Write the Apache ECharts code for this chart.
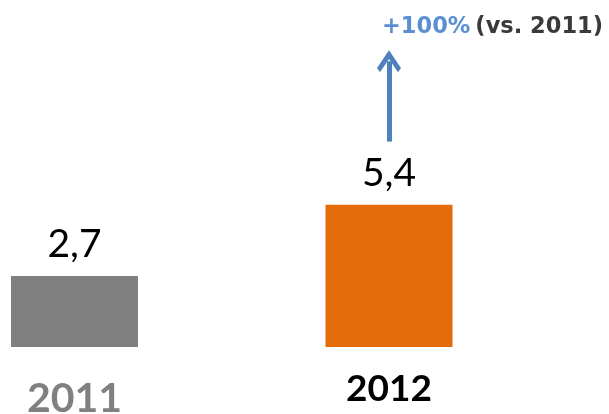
<!DOCTYPE html>
<html>
<head>
<meta charset="utf-8">
<script src="https://cdn.jsdelivr.net/npm/echarts@6/dist/echarts.min.js"></script>
<style>
  html, body { margin: 0; padding: 0; background: #fff; }
  #chart { width: 609px; height: 414px; }
</style>
</head>
<body>
<div id="chart"></div>
<script>
const years = ['2011', '2012'];
const revenue = [2.7, 5.4];
const barColors = ['#808080', '#e46c0a'];
// arrow above the 2012 bar, in axis units
const arrowFrom = [1, 7.8];
const arrowTo = [1, 10.85];

const chart = echarts.init(document.getElementById('chart'));

const option = {
    animation: false,
    title: {
        text: '{up|+100%} {vs|(vs. 2011)}',
        left: 377,
        top: 11,
        textStyle: {
            rich: {
                up: { fontFamily: 'DejaVu Sans', fontWeight: 'bold', fontSize: 22.5, color: '#5b8fd4' },
                vs: { fontFamily: 'DejaVu Sans', fontWeight: 'bold', fontSize: 22.5, color: '#3a3a3a' }
            }
        }
    },
    // bars sit on the first and last category lines
    grid: { left: 74.5, right: 220, top: 31, bottom: 67, outerBoundsMode: 'none' },
    xAxis: {
        type: 'category',
        data: years,
        boundaryGap: false,
        axisLine: { show: false },
        axisTick: { show: false },
        splitLine: { show: false },
        axisLabel: {
            margin: 24,
            formatter: (v, i) => (i === 0 ? '{old|' + v + '}' : '{cur|' + v + '}'),
            rich: {
                old: { fontFamily: 'Lato', fontWeight: 'bold', fontSize: 41, color: '#808080', padding: [7, 0, 0, 0] },
                cur: { fontFamily: 'Lato', fontWeight: 'bold', fontSize: 37, color: '#000' }
            }
        }
    },
    yAxis: {
        type: 'value',
        min: 0,
        max: 12,
        show: false
    },
    series: [{
        type: 'bar',
        barWidth: 127,
        clip: false,
        data: revenue.map((v, i) => ({ value: v, itemStyle: { color: barColors[i] } })),
        label: {
            show: true,
            position: 'top',
            distance: 12,
            fontFamily: 'Lato',
            fontSize: 39,
            color: '#000',
            formatter: p => String(p.value).replace('.', ',')
        },
        markLine: {
            silent: true,
            symbol: ['none', 'path://M0,0 L12,12 L9,15 L0,6 L-9,15 L-12,12 Z'],
            symbolSize: [24, 22],
            label: { show: false },
            lineStyle: { color: '#4f81bd', width: 5, type: 'solid' },
            data: [[{ coord: arrowFrom }, { coord: arrowTo }]]
        }
    }]
};

chart.setOption(option);
</script>
</body>
</html>
